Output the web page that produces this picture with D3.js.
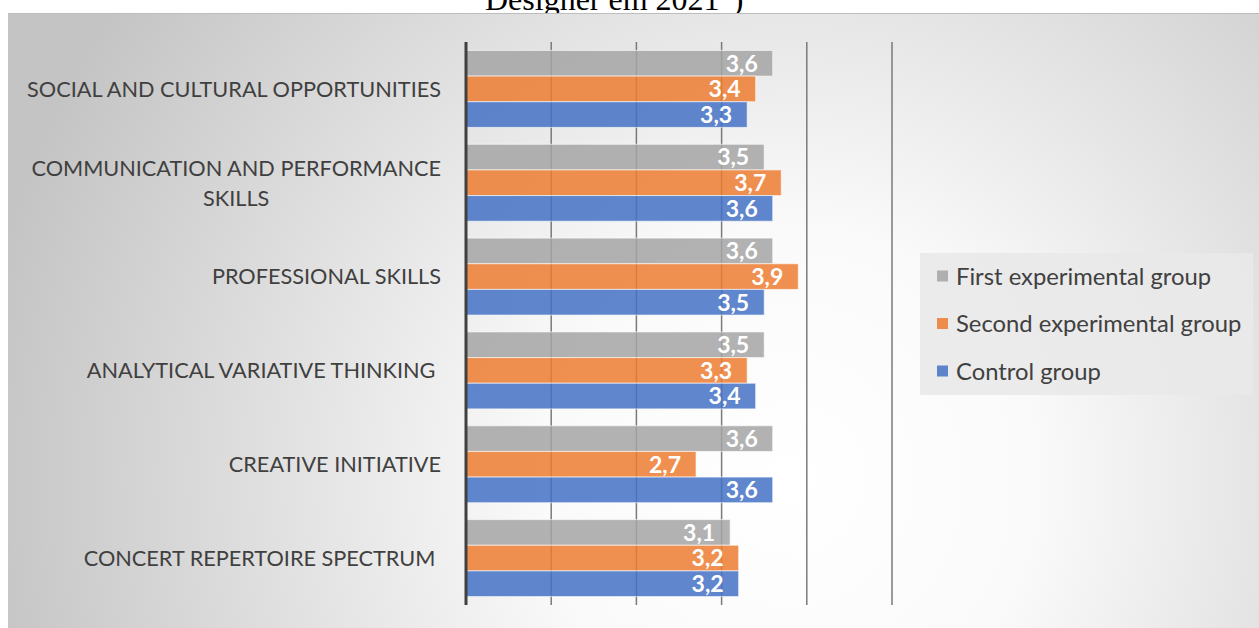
<!DOCTYPE html>
<html>
<head>
<meta charset="utf-8">
<script src="https://cdn.jsdelivr.net/npm/d3@7"></script>
<style>
	html, body { margin: 0; padding: 0; background: #fff; }
	text { font-family: Lato, "Open Sans", sans-serif; }
</style>
</head>
<body>
<div id="root"></div>
<script>
const categories	= [
	'SOCIAL AND CULTURAL OPPORTUNITIES',
	'COMMUNICATION AND PERFORMANCE\nSKILLS',
	'PROFESSIONAL SKILLS',
	'ANALYTICAL VARIATIVE THINKING ',
	'CREATIVE INITIATIVE',
	'CONCERT REPERTOIRE SPECTRUM ',
];
const series		= ['First experimental group', 'Second experimental group', 'Control group'];
const first_vals	= [3.6, 3.5, 3.6, 3.5, 3.6, 3.1];
const second_vals	= [3.4, 3.7, 3.9, 3.3, 2.7, 3.2];
const control_vals	= [3.3, 3.6, 3.5, 3.4, 3.6, 3.2];
const x_ticks		= [0, 1, 2, 3, 4, 5];
const colors		= ['#a5a5a5', '#ed7d31', '#4472c4'];

const width		= 1259;
const height	= 628;

const values	= [first_vals, second_vals, control_vals];
const rows		= categories.map((c, i) => ({ name: c, vals: series.map((s, j) => ({ key: s, value: values[j][i] })) }));

const svg	= d3.select('#root').append('svg')
	.attr('width', width)
	.attr('height', height);

const defs	= svg.append('defs');
const grad	= defs.append('radialGradient')
	.attr('id', 'bg')
	.attr('gradientUnits', 'userSpaceOnUse')
	.attr('cx', 0).attr('cy', 0).attr('r', 1)
	.attr('gradientTransform', 'translate(790,480) scale(820,840)');
grad.append('stop').attr('offset', 0).attr('stop-color', '#ffffff');
grad.append('stop').attr('offset', 0.3).attr('stop-color', '#fafafa');
grad.append('stop').attr('offset', 1).attr('stop-color', '#c4c4c4');

// the cut off caption above the chart
svg.append('text')
	.attr('x', 485)
	.attr('y', 10)
	.style('font-family', '"Liberation Serif", serif')
	.style('font-size', '32px')
	.attr('fill', '#000')
	.text('Designer em 2021")');

svg.append('rect')
	.attr('x', 8).attr('y', 13)
	.attr('width', width - 8).attr('height', height - 13)
	.attr('fill', 'url(#bg)');

svg.append('line')
	.attr('x1', 8).attr('x2', width)
	.attr('y1', 13.5).attr('y2', 13.5)
	.attr('stroke', '#bdbdbd');

const x		= d3.scaleLinear().domain([0, 5]).range([466, 892]);
const y		= d3.scaleBand().domain(categories).range([42, 605]).paddingInner(0.18).paddingOuter(0.09);
const y1	= d3.scaleBand().domain(series).range([0, y.bandwidth()]);
const color	= d3.scaleOrdinal().domain(series).range(colors);
const fmt	= d3.formatLocale({ decimal: ',', thousands: ' ', grouping: [3], currency: ['', ''] }).format('.1f');

// gridlines
svg.append('g')
	.selectAll('line').data(x_ticks.slice(1)).enter().append('line')
	.attr('x1', (d) => x(d)).attr('x2', (d) => x(d))
	.attr('y1', 42).attr('y2', 605)
	.attr('stroke', '#7a7a7a')
	.attr('stroke-width', 1.5);

const groups	= svg.append('g')
	.selectAll('g').data(rows).enter().append('g')
	.attr('transform', (o) => 'translate(0,' + y(o.name) + ')');

groups.selectAll('rect').data((o) => o.vals).enter().append('rect')
	.attr('x', x(0))
	.attr('y', (o) => y1(o.key))
	.attr('width', (o) => x(o.value) - x(0))
	.attr('height', y1.bandwidth())
	.attr('fill', (o) => color(o.key))
	.attr('fill-opacity', 0.85)
	.attr('stroke', '#ffffff')
	.attr('stroke-opacity', 0.6)
	.attr('stroke-width', 1);

groups.selectAll('text').data((o) => o.vals).enter().append('text')
	.attr('x', (o) => x(o.value) - 15)
	.attr('y', (o) => y1(o.key) + y1.bandwidth() / 2)
	.attr('dy', '0.36em')
	.attr('text-anchor', 'end')
	.attr('fill', '#ffffff')
	.style('font-size', '23px')
	.style('font-weight', 'bold')
	.text((o) => fmt(o.value));

// category axis
svg.append('line')
	.attr('x1', x(0)).attr('x2', x(0))
	.attr('y1', 42).attr('y2', 605)
	.attr('stroke', '#404040')
	.attr('stroke-width', 3);

const cats	= svg.append('g')
	.selectAll('text').data(categories).enter().append('text')
	.attr('y', (d) => y(d) + y.bandwidth() / 2)
	.attr('fill', '#404040')
	.style('font-size', '21.7px')
	.style('white-space', 'pre')
	.each(function(d) {
		let lines	= d.split('\n');
		let node	= d3.select(this);
		let spans	= lines.map((l, i) => node.append('tspan')
			.attr('dy', i == 0 ? ((0.36 - (lines.length - 1) * 0.69) + 'em') : '1.38em')
			.text(l));
		if (lines.length == 1) {
			node.attr('text-anchor', 'end').attr('x', 441);
			spans[0].attr('x', 441);
		} else {
			let w	= d3.max(spans, (s) => s.node().getComputedTextLength());
			node.attr('text-anchor', 'middle');
			spans.forEach((s) => s.attr('x', 441 - w / 2));
		}
	});

// legend
const legend	= svg.append('g').attr('transform', 'translate(920,253)');
legend.append('rect')
	.attr('width', 333).attr('height', 142)
	.attr('fill', '#e9e9e9')
	.attr('fill-opacity', 0.9);

const items	= legend.selectAll('.item').data(series).enter().append('g')
	.attr('class', 'item')
	.attr('transform', (o, i) => 'translate(0,' + (23 + i * 47.5) + ')');

items.append('rect')
	.attr('x', 17).attr('y', -5.5)
	.attr('width', 11).attr('height', 11)
	.attr('fill', (o) => color(o))
	.attr('fill-opacity', 0.85);

items.append('text')
	.attr('x', 36)
	.attr('dy', '0.36em')
	.attr('fill', '#404040')
	.style('font-size', '23.8px')
	.text((o) => o);
</script>
</body>
</html>
